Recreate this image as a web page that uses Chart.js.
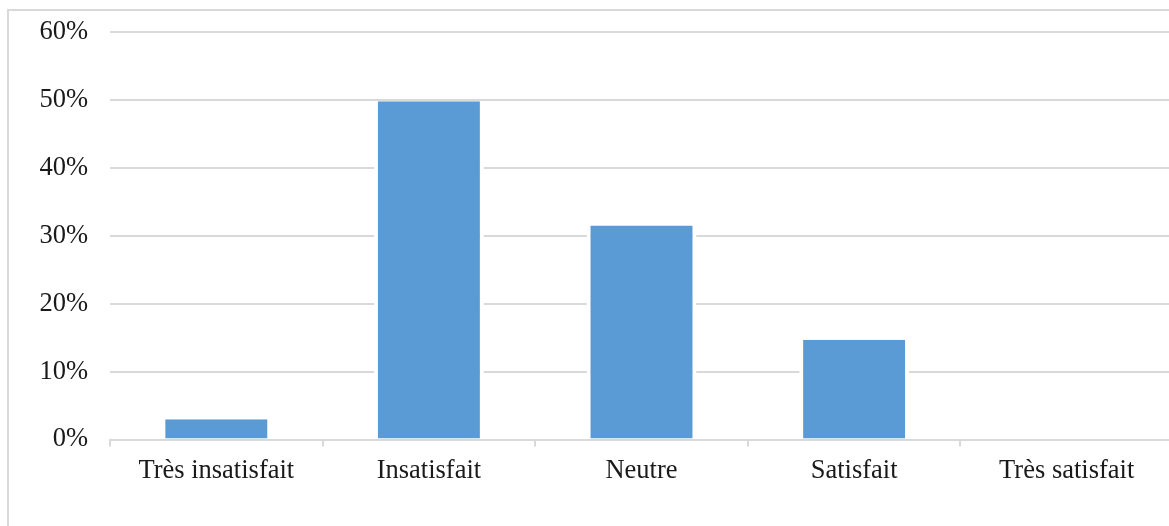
<!DOCTYPE html>
<html lang="fr">
  <head>
    <meta charset="UTF-8" />
    <title>Satisfaction</title>
    <script src="https://cdn.jsdelivr.net/npm/chart.js@4/dist/chart.umd.min.js"></script>
    <style>
      html, body {
        margin: 0;
        padding: 0;
        background: #fff;
        overflow: hidden;
        width: 1169px;
        height: 526px;
      }

      .frame {
        position: absolute;
        left: 7px;
        top: 9px;
        width: 1300px;
        height: 700px;
        border: 2px solid #d9d9d9;
      }

      #chart {
        position: absolute;
        left: 0;
        top: 0;
      }
    </style>
  </head>
  <body>
    <div class="frame"></div>
    <canvas id="chart" width="1180" height="526"></canvas>
    <script>
      let categories = ['Très insatisfait', 'Insatisfait', 'Neutre', 'Satisfait', 'Très satisfait'];
      let percents = [3.0, 49.8, 31.5, 14.7, 0];
      let yTicks = [0, 10, 20, 30, 40, 50, 60];

      let serif = "'Liberation Serif', 'Times New Roman', serif";
      let gridColor = '#d9d9d9';

      new Chart(document.getElementById('chart'), {
        type: 'bar',
        data: {
          labels: categories,
          datasets: [
            {
              data: percents,
              backgroundColor: '#5b9bd5',
              borderColor: '#ffffff',
              borderWidth: { left: 4, right: 4, top: 0, bottom: 0 },
              borderSkipped: false,
              barPercentage: 0.517,
              categoryPercentage: 1
            }
          ]
        },
        options: {
          responsive: false,
          animation: false,
          devicePixelRatio: 1,
          layout: { padding: { left: 0, right: 7, top: 32, bottom: 27 } },
          plugins: {
            legend: { display: false },
            tooltip: { enabled: false }
          },
          scales: {
            x: {
              offset: true,
              grid: {
                offset: true,
                drawOnChartArea: false,
                drawTicks: true,
                tickLength: 7,
                color: gridColor,
                lineWidth: 2
              },
              border: { display: true, color: gridColor, width: 2 },
              ticks: {
                color: '#1a1a1a',
                font: { family: serif, size: 26.5 },
                padding: 9,
                maxRotation: 0,
                autoSkip: false
              },
              afterFit: s => { s.height = 59.5; }
            },
            y: {
              min: 0,
              max: 60,
              afterBuildTicks: s => { s.ticks = yTicks.map(v => ({ value: v })); },
              grid: { color: gridColor, lineWidth: 2, drawTicks: false },
              border: { display: false },
              ticks: {
                color: '#1a1a1a',
                font: { family: serif, size: 26.5, lineHeight: 0.5 },
                padding: 22,
                callback: v => v + '%'
              },
              afterFit: s => { s.width = 110; }
            }
          }
        }
      });
    </script>
  </body>
</html>
